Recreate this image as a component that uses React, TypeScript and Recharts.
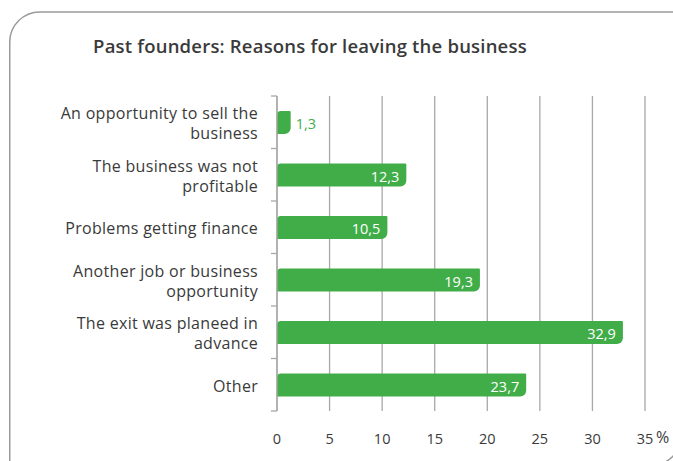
import { BarChart, Bar, XAxis, YAxis, CartesianGrid, LabelList } from "recharts";

const categories = [
  "An opportunity to sell the\nbusiness",
  "The business was not\nprofitable",
  "Problems getting finance",
  "Another job or business\nopportunity",
  "The exit was planeed in\nadvance",
  "Other",
];
const shares = [1.3, 12.3, 10.5, 19.3, 32.9, 23.7];
const xTicks = [0, 5, 10, 15, 20, 25, 30, 35];

const data = categories.map((name, i) => ({ name, value: shares[i] }));

const GREEN = "#41ad49";
const GRID = "#a8a8a8";
const TEXT = "#3a3a3a";
const FONT = "'Open Sans', 'Noto Sans', sans-serif";

function CategoryTick(props: any) {
  const { x, y, payload, index } = props;
  const lines = String(payload.value).split("\n");
  const half = payload.offset ?? 0;
  const lineH = 20;
  const top = y + 1 - ((lines.length - 1) * lineH) / 2;
  return (
    <g>
      <line x1={x - 6} x2={x} y1={y - half} y2={y - half} stroke={GRID} strokeWidth={1.3} />
      {index === categories.length - 1 && (
        <line x1={x - 6} x2={x} y1={y + half} y2={y + half} stroke={GRID} strokeWidth={1.3} />
      )}
      <text
        x={x - 19}
        y={top}
        textAnchor="end"
        dominantBaseline="central"
        fontSize={16}
        letterSpacing={0.3}
        fill={TEXT}
        fontFamily={FONT}
      >
        {lines.map((l, i) => (
          <tspan key={i} x={x - 19} dy={i === 0 ? 0 : lineH}>
            {l}
          </tspan>
        ))}
      </text>
    </g>
  );
}

function ValueTick(props: any) {
  const { x, y, payload } = props;
  return (
    <text
      x={x}
      y={y + 27}
      textAnchor="middle"
      dominantBaseline="central"
      fontSize={14.5}
      fill={TEXT}
      fontFamily={FONT}
    >
      {payload.value}
    </text>
  );
}

function ValueLabel(props: any) {
  const { x, y, width, height, value } = props;
  const text = String(value).replace(".", ",");
  const fits = width > 34;
  return (
    <text
      x={fits ? x + width - 7 : x + width + 5}
      y={y + height / 2 + 1}
      textAnchor={fits ? "end" : "start"}
      dominantBaseline="central"
      fill={fits ? "#ffffff" : GREEN}
      fontSize={14.5}
      fontFamily={FONT}
    >
      {text}
    </text>
  );
}

export default function App() {
  return (
    <div
      style={{
        position: "absolute",
        left: 0,
        top: 0,
        width: 673,
        height: 461,
        overflow: "hidden",
        background: "#fff",
      }}
    >
      <BarChart
        width={673}
        height={461}
        data={data}
        layout="vertical"
        margin={{ top: 96, right: 28, bottom: 20, left: 0 }}
        barSize={23}
      >
        <CartesianGrid horizontal={false} stroke={GRID} strokeWidth={1.3} />
        <XAxis
          type="number"
          domain={[0, 35]}
          ticks={xTicks}
          height={30}
          axisLine={false}
          tickLine={false}
          tickSize={0}
          tickMargin={0}
          tick={<ValueTick />}
          interval={0}
        />
        <YAxis
          type="category"
          dataKey="name"
          width={277}
          axisLine={{ stroke: GRID, strokeWidth: 1.3 }}
          tickLine={false}
          tickSize={0}
          tickMargin={0}
          tick={<CategoryTick />}
          interval={0}
        />
        <Bar dataKey="value" fill={GREEN} radius={[4, 1, 6, 0]} isAnimationActive={false}>
          <LabelList dataKey="value" content={<ValueLabel />} />
        </Bar>
      </BarChart>
      <svg
        width={673}
        height={461}
        style={{ position: "absolute", left: 0, top: 0, pointerEvents: "none" }}
      >
        <path
          d="M 9.75 470 V 42 A 30 30 0 0 1 39.75 12 H 700"
          fill="none"
          stroke="#9b9b9b"
          strokeWidth={1.5}
        />
        <path
          d="M 681.75 435 A 30 30 0 0 1 651.75 465"
          fill="none"
          stroke="#9b9b9b"
          strokeWidth={1.5}
        />
        <text
          x={310}
          y={53}
          textAnchor="middle"
          fontSize={18.5}
          fontWeight={600}
          letterSpacing={0.2}
          fill={TEXT}
          fontFamily={FONT}
        >
          Past founders: Reasons for leaving the business
        </text>
        <text x={656} y={443} fontSize={16} fill={TEXT} fontFamily={FONT}>
          %
        </text>
      </svg>
    </div>
  );
}
